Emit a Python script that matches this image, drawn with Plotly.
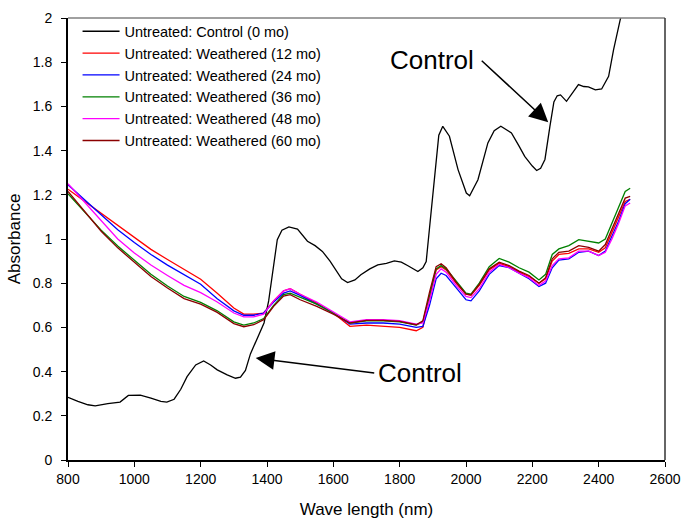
import plotly.graph_objects as go

# ---------------- data ----------------
wl_control = [800, 830, 860, 882, 920, 957, 982, 1018, 1050, 1080, 1098, 1120, 1140, 1159, 1185,
              1209, 1230, 1250, 1280, 1305, 1320, 1335, 1350, 1370, 1391, 1405, 1416, 1431, 1445,
              1466, 1492, 1522, 1545, 1567, 1590, 1603, 1625, 1643, 1665, 1683, 1710, 1734, 1760,
              1784, 1805, 1825, 1855, 1870, 1880, 1890, 1900, 1910, 1918, 1930, 1950, 1976, 2001,
              2011, 2036, 2066, 2085, 2105, 2137, 2160, 2177, 2200, 2213, 2225, 2238, 2253, 2265,
              2275, 2285, 2303, 2320, 2339, 2355, 2369, 2390, 2409, 2430, 2445, 2465, 2480, 2495]
abs_control = [0.284, 0.265, 0.250, 0.245, 0.255, 0.262, 0.292, 0.294, 0.280, 0.265, 0.262, 0.275,
               0.320, 0.377, 0.430, 0.448, 0.430, 0.408, 0.385, 0.370, 0.375, 0.405, 0.480, 0.550,
               0.620, 0.720, 0.830, 0.997, 1.040, 1.055, 1.045, 0.990, 0.970, 0.944, 0.900, 0.870,
               0.820, 0.803, 0.815, 0.838, 0.865, 0.883, 0.890, 0.901, 0.895, 0.879, 0.853, 0.870,
               0.898, 1.050, 1.200, 1.380, 1.470, 1.510, 1.465, 1.314, 1.208, 1.196, 1.268, 1.435,
               1.490, 1.510, 1.480, 1.420, 1.374, 1.330, 1.310, 1.320, 1.360, 1.510, 1.620, 1.648,
               1.652, 1.623, 1.660, 1.699, 1.690, 1.688, 1.675, 1.679, 1.736, 1.857, 1.993, 2.080,
               2.150]

wl_weathered = [800, 850, 900, 950, 1000, 1050, 1100, 1150, 1200, 1250, 1300, 1330, 1360, 1390,
                1420, 1450, 1470, 1500, 1550, 1600, 1650, 1700, 1750, 1800, 1850, 1870, 1890,
                1910, 1925, 1940, 1970, 2000, 2015, 2040, 2070, 2100, 2130, 2160, 2190, 2220,
                2240, 2260, 2280, 2310, 2340, 2370, 2400, 2420, 2440, 2460, 2480, 2495]
abs_12mo = [1.225, 1.170, 1.115, 1.060, 1.006, 0.953, 0.907, 0.863, 0.818, 0.755, 0.688, 0.660,
            0.660, 0.665, 0.720, 0.765, 0.775, 0.750, 0.710, 0.665, 0.605, 0.610, 0.605, 0.600,
            0.585, 0.600, 0.730, 0.860, 0.875, 0.860, 0.800, 0.750, 0.745, 0.790, 0.860, 0.890,
            0.875, 0.850, 0.830, 0.800, 0.820, 0.900, 0.930, 0.935, 0.955, 0.955, 0.940, 0.960,
            1.030, 1.100, 1.170, 1.180]
abs_24mo = [1.245, 1.177, 1.110, 1.042, 0.984, 0.930, 0.882, 0.838, 0.795, 0.730, 0.675, 0.655,
            0.655, 0.665, 0.715, 0.755, 0.765, 0.745, 0.705, 0.665, 0.615, 0.620, 0.620, 0.615,
            0.600, 0.605, 0.700, 0.820, 0.845, 0.835, 0.780, 0.725, 0.720, 0.765, 0.840, 0.880,
            0.870, 0.845, 0.820, 0.785, 0.800, 0.870, 0.905, 0.910, 0.940, 0.945, 0.925, 0.945,
            1.010, 1.080, 1.160, 1.180]
abs_36mo = [1.205, 1.120, 1.040, 0.968, 0.903, 0.840, 0.787, 0.740, 0.713, 0.675, 0.625, 0.610,
            0.620, 0.640, 0.700, 0.748, 0.755, 0.735, 0.705, 0.665, 0.620, 0.630, 0.630, 0.625,
            0.610, 0.625, 0.740, 0.865, 0.880, 0.865, 0.810, 0.755, 0.750, 0.800, 0.875, 0.912,
            0.895, 0.870, 0.850, 0.815, 0.840, 0.930, 0.955, 0.970, 0.997, 0.990, 0.982, 1.000,
            1.070, 1.140, 1.215, 1.230]
abs_48mo = [1.250, 1.167, 1.085, 1.000, 0.937, 0.882, 0.835, 0.790, 0.757, 0.715, 0.665, 0.648,
            0.648, 0.660, 0.720, 0.765, 0.775, 0.750, 0.715, 0.670, 0.625, 0.635, 0.635, 0.630,
            0.615, 0.620, 0.720, 0.840, 0.865, 0.850, 0.790, 0.740, 0.735, 0.775, 0.850, 0.885,
            0.870, 0.845, 0.825, 0.790, 0.810, 0.880, 0.910, 0.915, 0.945, 0.945, 0.925, 0.940,
            1.000, 1.070, 1.150, 1.163]
abs_60mo = [1.215, 1.125, 1.035, 0.960, 0.895, 0.830, 0.778, 0.730, 0.705, 0.668, 0.617, 0.603,
            0.612, 0.635, 0.695, 0.742, 0.748, 0.725, 0.695, 0.660, 0.620, 0.632, 0.632, 0.627,
            0.612, 0.630, 0.760, 0.875, 0.888, 0.870, 0.805, 0.750, 0.747, 0.795, 0.865, 0.895,
            0.880, 0.855, 0.835, 0.800, 0.825, 0.910, 0.940, 0.945, 0.970, 0.962, 0.945, 0.975,
            1.045, 1.115, 1.185, 1.193]

series_names = ["Untreated: Control (0 mo)", "Untreated: Weathered (12 mo)",
                "Untreated: Weathered (24 mo)", "Untreated: Weathered (36 mo)",
                "Untreated: Weathered (48 mo)", "Untreated: Weathered (60 mo)"]
series_colors = ["#000000", "#FF0000", "#0000FF", "#008000", "#FF00FF", "#8B0000"]
series_x = [wl_control, wl_weathered, wl_weathered, wl_weathered, wl_weathered, wl_weathered]
series_y = [abs_control, abs_12mo, abs_24mo, abs_36mo, abs_48mo, abs_60mo]

x_ticks = [800, 1000, 1200, 1400, 1600, 1800, 2000, 2200, 2400, 2600]
y_ticks = [0, 0.2, 0.4, 0.6, 0.8, 1, 1.2, 1.4, 1.6, 1.8, 2]

FONT = "Arial, Liberation Sans, sans-serif"

fig = go.Figure()
for name, color, xs, ys in zip(series_names, series_colors, series_x, series_y):
    fig.add_trace(go.Scatter(x=xs, y=ys, mode="lines", name=name,
                             line=dict(color=color, width=1.3)))

fig.update_layout(
    width=681, height=519,
    margin=dict(l=68, r=16, t=18, b=59),
    paper_bgcolor="white", plot_bgcolor="white",
    font=dict(family=FONT, color="black", size=14),
    showlegend=True,
    legend=dict(x=0.016, y=1.006, xanchor="left", yanchor="top",
                bgcolor="rgba(0,0,0,0)", font=dict(size=14.5, family=FONT),
                tracegroupgap=0, itemwidth=37),
    xaxis=dict(range=[800, 2600], tickvals=x_ticks, ticks="outside", ticklen=5,
               tickcolor="black", showline=True, linecolor="black", linewidth=2,
               showgrid=False, zeroline=False, tickfont=dict(size=14), automargin=False,
               title=dict(text="Wave length (nm)", font=dict(size=17), standoff=19)),
    yaxis=dict(range=[0, 2], tickvals=y_ticks, ticks="outside", ticklen=5,
               tickcolor="black", showline=True, linecolor="black", linewidth=2,
               showgrid=False, zeroline=False, tickfont=dict(size=14), automargin=False,
               ticklabelstandoff=6,
               title=dict(text="Absorbance", font=dict(size=17), standoff=8)),
    shapes=[
        dict(type="line", xref="paper", yref="paper", x0=0, x1=1, y0=1, y1=1,
             line=dict(color="#808080", width=1.5)),
        dict(type="line", xref="paper", yref="paper", x0=1, x1=1, y0=0, y1=1,
             line=dict(color="#333333", width=1.5)),
    ],
    annotations=[
        dict(x=1898, y=1.812, xref="x", yref="y", text="Control", showarrow=False,
             font=dict(size=26, family=FONT)),
        dict(x=2248, y=1.528, xref="x", yref="y", text="", showarrow=True,
             ax=-68, ay=-63, arrowhead=2, arrowsize=2.5, arrowwidth=1.5, arrowcolor="black"),
        dict(x=1860, y=0.394, xref="x", yref="y", text="Control", showarrow=False,
             font=dict(size=26, family=FONT)),
        dict(x=1366, y=0.461, xref="x", yref="y", text="", showarrow=True,
             ax=120, ay=15, arrowhead=2, arrowsize=2.5, arrowwidth=1.5, arrowcolor="black"),
    ],
)

fig.write_html("out.html")
